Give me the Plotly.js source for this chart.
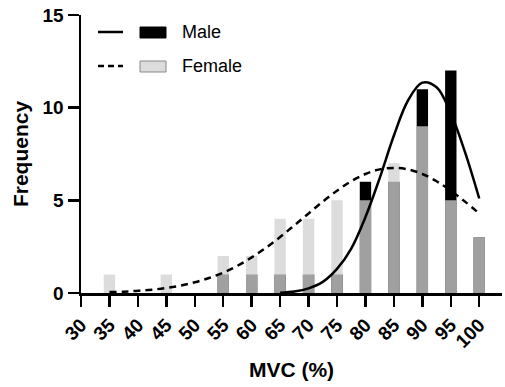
<!DOCTYPE html>
<html>
<head>
<meta charset="utf-8">
<script src="https://cdn.plot.ly/plotly-3.0.1.min.js"></script>
<style>
html,body{margin:0;padding:0;background:#fff;}
#chart{width:505px;height:387px;}
</style>
</head>
<body>
<div id="chart"></div>
<script>
// Histogram bins (MVC %)
const bins = [35, 45, 55, 60, 65, 70, 75, 80, 85, 90, 95, 100];
const femaleCounts = [1, 1, 2, 2, 4, 4, 5, 5, 7, 9, 5, 3];
const maleCounts   = [0, 0, 1, 1, 1, 1, 1, 6, 6, 11, 12, 3];

// Fitted curves
const maleFitX = [65, 67.5, 70, 72.5, 75, 77.5, 80, 82.5, 85, 87.5, 90, 92.5, 95, 97.5, 100];
const maleFitY = [0.02, 0.08, 0.25, 0.6, 1.3, 2.4, 4.1, 6.2, 8.5, 10.4, 11.35, 11.1, 9.7, 7.6, 5.1];
const femaleFitX = [35, 37.5, 40, 42.5, 45, 47.5, 50, 52.5, 55, 57.5, 60, 62.5, 65, 67.5, 70, 72.5, 75, 77.5, 80, 82.5, 85, 87.5, 90, 92.5, 95, 97.5, 100];
const femaleFitY = [0.05, 0.07, 0.12, 0.18, 0.27, 0.4, 0.58, 0.81, 1.1, 1.47, 1.92, 2.44, 3.02, 3.65, 4.29, 4.93, 5.52, 6.03, 6.42, 6.67, 6.75, 6.67, 6.42, 6.03, 5.52, 4.93, 4.29];

const xTicks = [30, 35, 40, 45, 50, 55, 60, 65, 70, 75, 80, 85, 90, 95, 100];
const yTicks = [0, 5, 10, 15];

const FONT = 'Liberation Sans, Arial, sans-serif';

const traces = [
  {type:'bar', x: bins, y: maleCounts, width: 2, marker:{color:'#000000', line:{width:0}}, showlegend:false, hoverinfo:'skip'},
  {type:'bar', x: bins, y: femaleCounts, width: 2, marker:{color:'rgba(209,209,209,0.765)', line:{width:0}}, showlegend:false, hoverinfo:'skip'},
  {type:'scatter', mode:'lines', x: maleFitX, y: maleFitY, line:{color:'#000', width:2.5, shape:'spline'}, showlegend:false, cliponaxis:false},
  {type:'scatter', mode:'lines', x: femaleFitX, y: femaleFitY, line:{color:'#000', width:2.5, shape:'spline', dash:'7px,5px'}, showlegend:false, cliponaxis:false}
];

const L = 81, T = 15, W = 421, H = 278;
function px(x){ return (x - L) / W; }
function py(y){ return (T + H - y) / H; }

const layout = {
  width: 505, height: 387,
  margin: {l: L, r: 505 - L - W, t: T, b: 387 - T - H},
  paper_bgcolor: '#fff', plot_bgcolor: '#fff',
  barmode: 'overlay',
  showlegend: false,
  font: {family: FONT, color: '#000'},
  xaxis: {
    range: [30, 104], tickvals: xTicks, ticktext: xTicks.map(v => '<b>' + v + '</b>'),
    showgrid: false, zeroline: false, showline: true, linecolor: '#000', linewidth: 2.5,
    ticks: 'outside', ticklen: 11, tickwidth: 2.5, tickcolor: '#000',
    tickangle: -45, tickfont: {family: FONT, size: 19, color: '#000'},
    title: {text: '<b>MVC (%)</b>', font: {family: FONT, size: 21, color: '#000'}, standoff: 12}
  },
  yaxis: {
    range: [0, 15], tickvals: yTicks, ticktext: yTicks.map(v => '<b>' + v + '</b>'),
    showgrid: false, zeroline: false, showline: true, linecolor: '#000', linewidth: 2.5,
    ticks: 'outside', ticklen: 11, tickwidth: 2.5, tickcolor: '#000',
    tickfont: {family: FONT, size: 19, color: '#000'},
    title: {text: '<b>Frequency</b>', font: {family: FONT, size: 21, color: '#000'}, standoff: 8}
  },
  shapes: [
    {type:'line', xref:'paper', yref:'paper', x0:px(98), x1:px(123), y0:py(32), y1:py(32), line:{color:'#000', width:2.5}},
    {type:'rect', xref:'paper', yref:'paper', x0:px(140), x1:px(166), y0:py(38), y1:py(27), fillcolor:'#000', line:{color:'#000', width:1}},
    {type:'line', xref:'paper', yref:'paper', x0:px(98), x1:px(123), y0:py(66), y1:py(66), line:{color:'#000', width:2.5, dash:'6px,4px'}},
    {type:'rect', xref:'paper', yref:'paper', x0:px(140), x1:px(166), y0:py(72), y1:py(61), fillcolor:'#dcdcdc', line:{color:'#888', width:1}}
  ],
  annotations: [
    {xref:'paper', yref:'paper', x:px(180), y:py(32), text:'Male', showarrow:false, xanchor:'left', yanchor:'middle', font:{family: FONT, size:18, color:'#000'}},
    {xref:'paper', yref:'paper', x:px(180), y:py(66), text:'Female', showarrow:false, xanchor:'left', yanchor:'middle', font:{family: FONT, size:18, color:'#000'}}
  ]
};

Plotly.newPlot('chart', traces, layout, {displayModeBar: false, staticPlot: true});
</script>
</body>
</html>
